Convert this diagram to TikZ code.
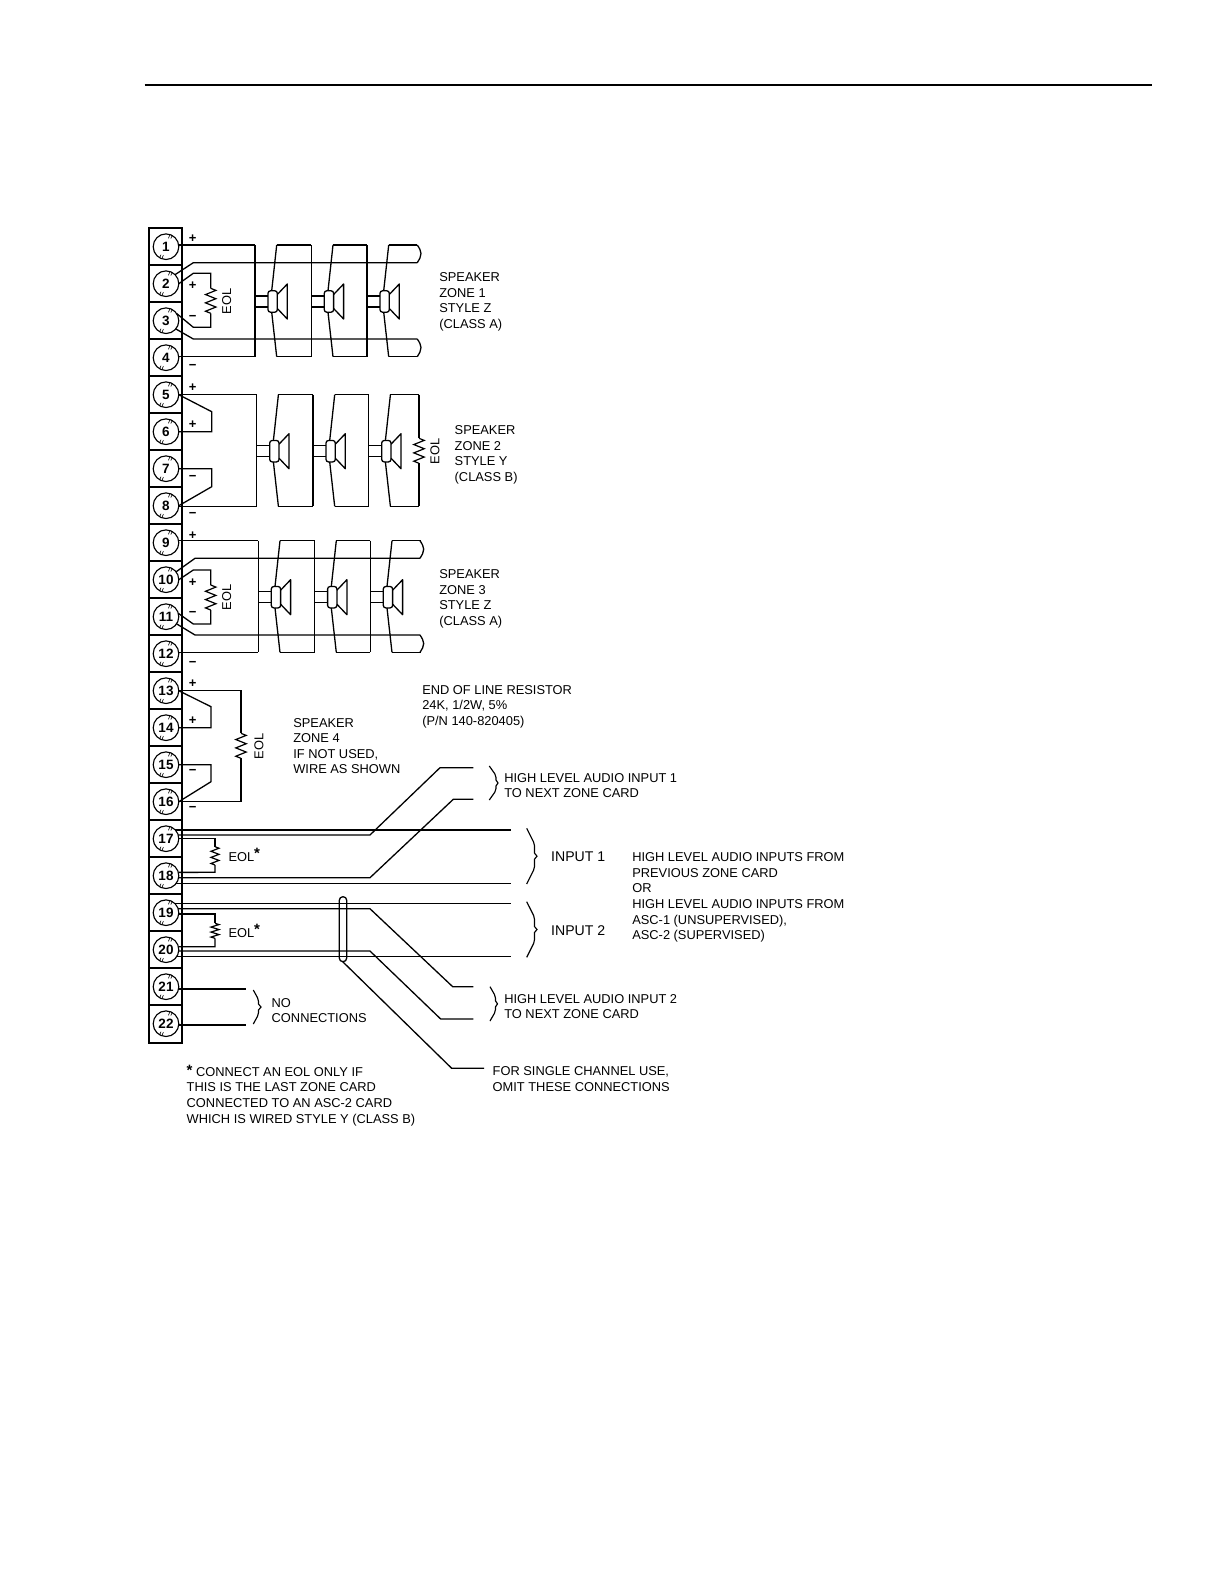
\documentclass[tikz,border=0pt]{standalone}
\usepackage{fontspec}
\setmainfont{Liberation Sans}
\tikzset{
  wire/.style={line width=1.3pt,line join=miter},
  term/.style={circle,draw,line width=1.15pt,minimum size=25.6pt,inner sep=0pt,outer sep=0pt,font=\fontsize{13.5}{13.5}\selectfont\bfseries},
  lbl/.style={anchor=north west,inner sep=0pt,outer sep=0pt,align=left,font=\fontsize{12.85}{15.6}\selectfont,execute at begin node=\strut},
  sign/.style={inner sep=0pt,font=\fontsize{13}{13}\selectfont\bfseries},
  eolv/.style={rotate=90,inner sep=0pt,font=\fontsize{12.85}{13}\selectfont},
  biglbl/.style={anchor=base west,inner sep=0pt,font=\fontsize{14.1}{15}\selectfont},
}
% resistor: x, y top, y bottom, half width
\newcommand{\zigres}[4]{%
  \pgfmathsetmacro\zs{(#3-#2)/6}%
  \draw[wire,line width=1.2pt] (#1,#2) -- (#1+#4,#2+0.5*\zs) -- (#1-#4,#2+1.5*\zs) -- (#1+#4,#2+2.5*\zs) -- (#1-#4,#2+3.5*\zs) -- (#1+#4,#2+4.5*\zs) -- (#1-#4,#2+5.5*\zs) -- (#1,#3);}
% brace: x left, x mid, x tip, y top, y bottom
\newcommand{\sbrace}[5]{%
  \pgfmathsetmacro\bm{(#4+#5)/2}%
  \draw[line width=1.15pt,line join=miter] (#1,#4) [rounded corners=2pt] -- (#2,#4+0.28*#5-0.28*#4) [sharp corners] -- (#2,\bm-3) -- (#3,\bm) -- (#2,\bm+3) [rounded corners=2pt] -- (#2,#5-0.28*#5+0.28*#4) -- (#1,#5);}
% speaker zone skeleton
\newcommand{\zoneskel}[2]{%
  \begin{scope}[shift={(#1,#2)}]
  \foreach \dx/\nx in {0/56.3,56.3/112,112/162.3}{%
    \begin{scope}[shift={(\dx,0)}]
    \draw[wire] (0,-56.5) -- (0,55.2);
    \draw[wire] (0,-5.5) -- (13,-5.5) (0,5.5) -- (13,5.5);
    \draw[wire,rounded corners=2.5pt] (13,-10.7) rectangle (22.3,10.7);
    \draw[wire,line join=round] (22.3,-7) -- (32.3,-17.5) -- (32.3,17.5) -- (22.3,7);
    \draw[wire] (16.7,-10.7) -- (21.7,-56.5) (16.7,10.7) -- (21.7,55.2);
    \end{scope}
  }
  \draw[wire] (21.7,-56.5) -- (56.3,-56.5) (21.7,55.2) -- (56.3,55.2);
  \draw[wire] (78,-56.5) -- (112,-56.5) (78,55.2) -- (112,55.2);
  \draw[wire] (133.7,-56.5) -- (162.3,-56.5) (133.7,55.2) -- (162.3,55.2);
  \end{scope}}
% right-hand loop end
\newcommand{\loopend}[3]{%
  \draw[wire] (#1,#2) .. controls (#1+2,#2+3) and (#1+3.7,#2+6) .. (#1+3.7,#2+8.5) .. controls (#1+3.7,#3-6) and (#1+2,#3-3) .. (#1,#3);}
\begin{document}
\begin{tikzpicture}[x=1pt,y=-1pt]
\useasboundingbox (0,0) rectangle (1224,1584);
\fill[white] (0,0) rectangle (1224,1584);
\draw[line width=2.2pt] (144.5,85) -- (1152,85);
% terminal strip
\draw[line width=2.4pt] (148.7,228) rectangle (181.7,1043);
\foreach \n in {1,...,21}{%
  \pgfmathsetmacro\yy{246.7+37*(\n-1)+18.5}%
  \draw[line width=2.4pt] (148.7,\yy) -- (181.7,\yy);}
\foreach \n in {1,...,22}{%
  \pgfmathsetmacro\yy{246.7+37*(\n-1)}%
  \node[term] (t\n) at (166,\yy) {\n};
  \begin{scope}[shift={(166,\yy)}]
  \draw[line width=.6pt] (2.4,-8.4) -- (3.8,-11.6) (4.8,-8.1) -- (6.2,-11.3);
  \draw[line width=.6pt] (-6.4,11.2) -- (-5,8) (-4,11.6) -- (-2.6,8.4);
  \end{scope}}
% ---- zone 1
\zoneskel{255}{301.5}
\draw[wire] (t1.8) -- (t1.8 -| 255,0);
\draw[wire] (t4.4) -- (t4.4 -| 255,0);
\draw[wire] (t2.45) -- (193.3,262.7) -- (417.3,262.7);
\draw[wire] (t3.-40) -- (193.3,339) -- (417.3,339);
\loopend{417.3}{245}{262.7}
\loopend{417.3}{339}{356.7}
\draw[wire] (t2.east) -- (193.3,273.3) -- (210.7,273.3) -- (210.7,288.3);
\zigres{210.7}{288.3}{313.3}{5.2}
\draw[wire] (210.7,313.3) -- (210.7,327.3) -- (193.3,327.3) -- (t3.35);
% ---- zone 2
\zoneskel{256.7}{451.2}
\draw[wire] (t5.east) -- (t5.east -| 256.7,0);
\draw[wire] (t8.-3) -- (t8.-3 -| 256.7,0);
\draw[wire] (t5.east) -- (211.7,411.7) -- (211.7,431.7) -- (t6.east);
\draw[wire] (t7.east) -- (211.7,468.7) -- (211.7,486.7) -- (t8.east);
\draw[wire] (419,394.7) -- (419,438.3);
\zigres{419}{438.3}{463.3}{5.2}
\draw[wire] (419,463.3) -- (419,506.4);
% ---- zone 3
\zoneskel{258.3}{597.2}
\draw[wire] (t9.9) -- (t9.9 -| 258.3,0);
\draw[wire] (t12.6) -- (t12.6 -| 258.3,0);
\draw[wire] (t10.38) -- (195,558.3) -- (420,558.3);
\draw[wire] (t11.-34) -- (195,635) -- (420,635);
\loopend{420}{540.7}{558.3}
\loopend{420}{635}{652.4}
\draw[wire] (t10.east) -- (193.3,570) -- (210.7,570) -- (210.7,585);
\zigres{210.7}{585}{610}{5.2}
\draw[wire] (210.7,610) -- (210.7,624) -- (193.3,624) -- (t11.15);
% ---- zone 4
\draw[wire] (t13.east) -- (t13.east -| 241,0) -- (241,733.3);
\zigres{241}{733.3}{758.3}{5.2}
\draw[wire] (241,758.3) -- (t16.east -| 241,0) -- (t16.east);
\draw[wire] (t13.east) -- (211,706.7) -- (t14.east -| 211,0) -- (t14.east);
\draw[wire] (t15.east) -- (t15.east -| 211,0) -- (211,781.7) -- (t16.east);
% ---- inputs
\draw[wire] (t17.43) -- (t17.43 -| 510.7,0);
\draw[wire] (t17.17) -- (t17.17 -| 370,0) -- (440,767.7) -- (473.3,767.7);
\draw[wire] (t17.east) -- (215,838.7) -- (215,846.7);
\zigres{215}{846.7}{865}{4}
\draw[wire] (215,865) -- (215,872.3) -- (t18.15);
\draw[wire] (t18.-9) -- (t18.-9 -| 370,0) -- (453.3,799.3) -- (473.3,799.3);
\draw[wire] (t18.-36) -- (t18.-36 -| 510.7,0);
\draw[wire] (t19.47) -- (t19.47 -| 510.7,0);
\draw[wire] (t19.18) -- (t19.18 -| 370,0) -- (452.7,986.7) -- (473.3,986.7);
\draw[wire] (t19.-6) -- (t19.-6 -| 215,0) -- (215,923.3);
\zigres{215}{923.3}{938.3}{4}
\draw[wire] (215,938.3) -- (215,946.7) -- (t20.13);
\draw[wire] (t20.-6) -- (t20.-6 -| 370,0) -- (440.7,1019) -- (473.3,1019);
\draw[wire] (t20.-33) -- (t20.-33 -| 510.7,0);
\draw[wire] (t21.-10) -- (t21.-10 -| 246,0);
\draw[wire] (t22.-6) -- (t22.-6 -| 246,0);
\draw[wire,rounded corners=3.6pt] (339.3,896.7) rectangle (346.7,961.7);
\coordinate (pill) at (342.7,961.7);
\draw[wire] (pill) -- (451.7,1068.3) -- (484,1068.3);
% braces
\sbrace{253.3}{258.5}{261}{990}{1024}
\sbrace{526.7}{534.5}{537}{828.3}{884}
\sbrace{526.7}{534.5}{537}{901.7}{957.3}
\sbrace{489.3}{496}{498}{766}{800}
\sbrace{490}{495.5}{497.5}{986.7}{1021}
% signs
\foreach \yy/\s in {237.3/+,284/+,385.7/+,423.3/+,534/+,580.7/+,681.7/+,719/+}{\node[sign] at (192.7,\yy+1.5) {\s};}
\foreach \yy in {315.7,365,476,513.3,612.3,661.7,770,807}{\node[sign] at (192.7,\yy+2) {−};}
% EOL
\node[eolv] (e1) at (226.7,301.7) {EOL};
\node[eolv] (e2) at (435,451.7) {EOL};
\node[eolv] (e3) at (226.7,597.3) {EOL};
\node[eolv] (e4) at (259,746.7) {EOL};
\node[anchor=base west,inner sep=0pt,font=\fontsize{12.85}{13}\selectfont] (e5) at (228.3,861) {EOL\raisebox{2.5pt}{\fontsize{15}{15}\selectfont\bfseries *}};
\node[anchor=base west,inner sep=0pt,font=\fontsize{12.85}{13}\selectfont] (e6) at (228.3,937) {EOL\raisebox{2.5pt}{\fontsize{15}{15}\selectfont\bfseries *}};
% labels
\node[lbl] (l1) at (439.3,272.8) {SPEAKER\\ZONE 1\\STYLE Z\\(CLASS A)};
\node[lbl] (l2) at (454.7,425.8) {SPEAKER\\ZONE 2\\STYLE Y\\(CLASS B)};
\node[lbl] (l3) at (439.3,569.8) {SPEAKER\\ZONE 3\\STYLE Z\\(CLASS A)};
\node[lbl] (l4) at (293.3,718.1) {SPEAKER\\ZONE 4\\IF NOT USED,\\WIRE AS SHOWN};
\node[lbl] (l5) at (422.3,685.1) {END OF LINE RESISTOR\\24K, 1/2W, 5\%\\(P/N 140-820405)};
\node[lbl] (l6) at (504.3,773.1) {HIGH LEVEL AUDIO INPUT 1\\TO NEXT ZONE CARD};
\node[lbl] (l7) at (632.3,852.8) {HIGH LEVEL AUDIO INPUTS FROM\\PREVIOUS ZONE CARD\\OR\\HIGH LEVEL AUDIO INPUTS FROM\\ASC-1 (UNSUPERVISED),\\ASC-2 (SUPERVISED)};
\node[lbl] (l8) at (504.3,994.1) {HIGH LEVEL AUDIO INPUT 2\\TO NEXT ZONE CARD};
\node[lbl] (l9) at (271.7,998.1) {NO\\CONNECTIONS};
\node[lbl] (l10) at (492.7,1066.8) {FOR SINGLE CHANNEL USE,\\OMIT THESE CONNECTIONS};
\node[lbl] (l11) at (186.7,1065) {\raisebox{1pt}{\fontsize{15}{15}\selectfont\bfseries *} CONNECT AN EOL ONLY IF\\THIS IS THE LAST ZONE CARD\\CONNECTED TO AN ASC-2 CARD\\WHICH IS WIRED STYLE Y (CLASS B)};
\node[biglbl] (l12) at (551,861.7) {INPUT 1};
\node[biglbl] (l13) at (551,935) {INPUT 2};
\end{tikzpicture}
\end{document}
